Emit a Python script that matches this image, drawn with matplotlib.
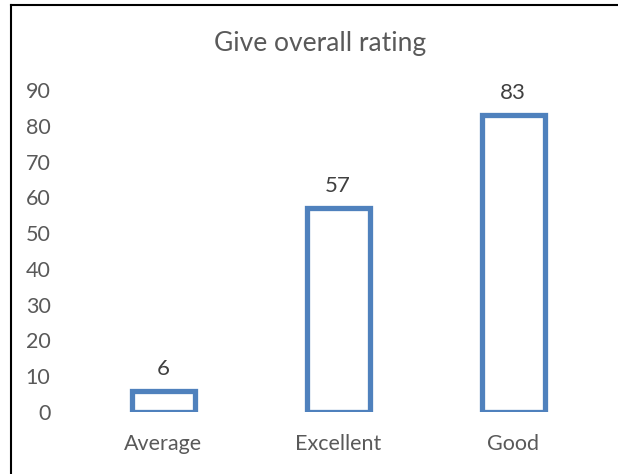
import matplotlib.pyplot as plt
from matplotlib.lines import Line2D

categories = ["Average", "Excellent", "Good"]
counts = [6, 57, 83]
y_ticks = [0, 10, 20, 30, 40, 50, 60, 70, 80, 90]

W, H = 618, 474
plt.rcParams['font.family'] = ['Lato', 'DejaVu Sans']

fig = plt.figure(figsize=(W / 100, H / 100), dpi=100)
ax = fig.add_axes([75.5 / W, (H - 412) / H, 525 / W, 322 / H])

x = range(len(categories))
ax.bar(x, counts, width=0.36, color="white", edgecolor="#4F81BD", linewidth=3.8)
for i, v in zip(x, counts):
    ax.text(i, v + 3.3, str(v), ha="center", va="bottom", fontsize=16, color="#404040")

ax.set_xlim(-0.5, 2.5)
ax.set_ylim(0, 90)
ax.set_xticks(list(x))
ax.set_xticklabels(categories)
ax.set_yticks(y_ticks)
ax.tick_params(axis="both", length=0, labelsize=15.5, labelcolor="#595959")
ax.tick_params(axis="y", pad=18)
ax.tick_params(axis="x", pad=16)
for s in ax.spines.values():
    s.set_visible(False)

fig.text(320 / W, 1 - 43 / H, "Give overall rating", ha="center", va="center",
         fontsize=19, color="#595959")

# frame lines at left and top
fig.add_artist(Line2D([11 / W, 11 / W], [0, 1 - 5 / H], color="black", linewidth=1.5))
fig.add_artist(Line2D([11 / W, 1], [1 - 5 / H, 1 - 5 / H], color="black", linewidth=1.5))

fig.savefig("out.png", dpi=100)
